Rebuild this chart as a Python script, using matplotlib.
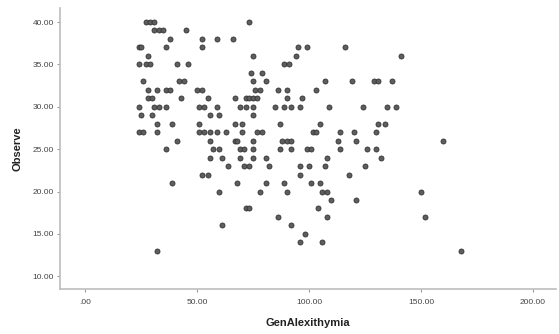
import matplotlib
matplotlib.use("Agg")
import matplotlib.pyplot as plt
import numpy as np

observe_levels = [40, 39, 38, 37, 36, 35, 34, 33, 32, 31, 30, 29, 28, 27,
                  26, 25, 24, 23, 22, 21, 20, 19, 18, 17, 16, 15, 14, 13]
gen_rows = [
    [27, 29, 31, 73],
    [31, 33, 35, 45],
    [38, 52, 59, 66],
    [24, 25, 36, 52, 95, 99, 116],
    [28, 75, 94, 141],
    [24, 27, 29, 41, 46, 89, 91],
    [74, 79],
    [26, 42, 44, 75, 81, 107, 119, 129, 131, 137],
    [28, 32, 36, 38, 50, 52, 76, 78, 86, 90, 103],
    [28, 30, 43, 55, 67, 72, 73, 75, 77, 90, 97],
    [24, 31, 33, 36, 51, 53, 59, 69, 72, 75, 85, 89, 92, 96, 109, 124, 135, 139],
    [25, 30, 56, 60, 75],
    [32, 39, 51, 67, 70, 87, 105, 131, 134],
    [24, 26, 32, 51, 53, 56, 59, 63, 70, 77, 79, 102, 103, 114, 120, 130],
    [41, 56, 67, 68, 75, 88, 90, 92, 113, 121, 160],
    [36, 57, 60, 69, 71, 75, 87, 92, 99, 101, 114, 126, 130],
    [56, 61, 69, 75, 81, 108, 132],
    [64, 71, 73, 82, 96, 100, 107, 125],
    [52, 55, 96, 118],
    [39, 68, 81, 89, 101, 105],
    [60, 78, 90, 106, 108, 150],
    [110, 121],
    [72, 73, 104],
    [86, 108, 152],
    [61, 92],
    [98],
    [96, 106],
    [32, 168],
]

x_ticks = [0, 50, 100, 150, 200]
y_ticks = [10, 15, 20, 25, 30, 35, 40]

x = np.concatenate([np.array(r, dtype=float) for r in gen_rows])
y = np.concatenate([np.full(len(r), lv, dtype=float) for r, lv in zip(gen_rows, observe_levels)])

plt.rcParams['font.family'] = ['Liberation Sans', 'DejaVu Sans']

fig = plt.figure(figsize=(5.59, 3.34), dpi=100)
ax = fig.add_axes([0.1073, 0.1347, 0.8873, 0.8413])

ax.scatter(x, y, s=13, c='#5e5e5e', edgecolors='#333333', linewidths=0.6, zorder=3)

ax.set_xlim(-11.2, 210.3)
ax.set_ylim(8.5, 41.65)
ax.set_xticks(x_ticks)
ax.set_yticks(y_ticks)
ax.set_xticklabels(['.00' if t == 0 else f'{t:.2f}' for t in x_ticks])
ax.set_yticklabels([f'{t:.2f}' for t in y_ticks])

for side in ['top', 'right']:
    ax.spines[side].set_visible(False)
for side in ['left', 'bottom']:
    ax.spines[side].set_color('#bdbdbd')
    ax.spines[side].set_linewidth(1.2)

ax.tick_params(axis='both', colors='#9a9a9a', labelcolor='#444444', labelsize=6, length=2.5, width=0.8)
ax.tick_params(axis='x', pad=5)
ax.tick_params(axis='y', pad=2)

ax.set_xlabel('GenAlexithymia', fontsize=8, fontweight='bold', color='#222222', labelpad=8)
ax.set_ylabel('Observe', fontsize=8, fontweight='bold', color='#222222', labelpad=7)

fig.savefig('out.png', dpi=100)
